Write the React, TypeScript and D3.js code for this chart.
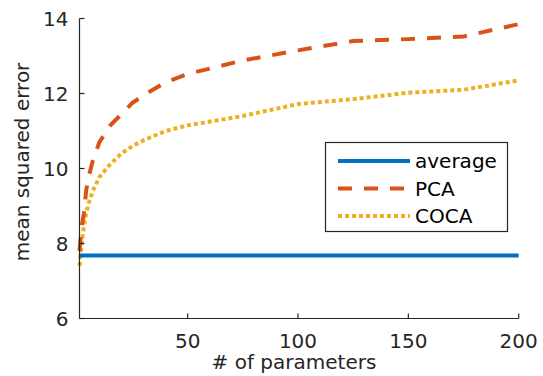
import { useEffect, useRef } from 'react';
import * as d3 from 'd3';

// number of parameters at which the errors were measured
const params = [1, 2, 3, 4, 5, 7, 10, 15, 20, 25, 30, 40, 50, 75, 100, 125, 150, 175, 200];
const pcaErr = [7.8, 8.45, 8.8, 9.4, 9.75, 10.2, 10.7, 11.15, 11.45, 11.75, 11.95, 12.3, 12.52, 12.88, 13.15, 13.4, 13.45, 13.52, 13.85];
const cocaErr = [7.4, 8.0, 8.45, 8.8, 9.05, 9.4, 9.77, 10.12, 10.4, 10.6, 10.75, 11.0, 11.15, 11.4, 11.72, 11.85, 12.02, 12.1, 12.35];
const averageErr = 7.68;

const xTicks = [50, 100, 150, 200];
const yTicks = [6, 8, 10, 12, 14];
const seriesNames = ['average', 'PCA', 'COCA'];

const App = () => {
  const svgRef = useRef<SVGSVGElement>(null);

  useEffect(() => {
    const svg = d3.select(svgRef.current);
    svg.selectAll('*').remove();

    const x = d3.scaleLinear().domain([1, 200]).range([79.5, 518.7]);
    const y = d3.scaleLinear().domain([6, 14]).range([318.5, 18.5]);
    const axisColor = '#262626';
    const font = 'DejaVu Sans, sans-serif';
    const fs = 20;

    const styles = [
      { color: '#0072BD', dash: null },
      { color: '#D95319', dash: '14 12' },
      { color: '#EDB120', dash: '4 3' },
    ];

    const line = d3.line<[number, number]>().x(d => x(d[0])).y(d => y(d[1]));

    const series: [number, number][][] = [
      [[1, averageErr], [200, averageErr]],
      params.map((p, i) => [p, pcaErr[i]]),
      params.map((p, i) => [p, cocaErr[i]]),
    ];

    // draw COCA, PCA then average on top
    [2, 1, 0].forEach(k => {
      svg.append('path')
        .attr('d', line(series[k]))
        .attr('fill', 'none')
        .attr('stroke', styles[k].color)
        .attr('stroke-width', 4)
        .attr('stroke-dasharray', styles[k].dash);
    });

    // axes (left + bottom only, ticks pointing in)
    const g = svg.append('g').attr('stroke', axisColor).attr('stroke-width', 1.2);
    g.append('line').attr('x1', x(1)).attr('x2', x(1)).attr('y1', y(6)).attr('y2', y(14));
    g.append('line').attr('x1', x(1)).attr('x2', x(200)).attr('y1', y(6)).attr('y2', y(6));

    yTicks.forEach(t => {
      g.append('line').attr('x1', x(1)).attr('x2', x(1) + 5).attr('y1', y(t)).attr('y2', y(t));
      svg.append('text')
        .attr('x', x(1) - 11).attr('y', y(t))
        .attr('text-anchor', 'end').attr('dominant-baseline', 'central')
        .attr('font-family', font).attr('font-size', fs).attr('fill', axisColor)
        .text(t);
    });
    xTicks.forEach(t => {
      g.append('line').attr('x1', x(t)).attr('x2', x(t)).attr('y1', y(6)).attr('y2', y(6) - 5);
      svg.append('text')
        .attr('x', x(t)).attr('y', 348)
        .attr('text-anchor', 'middle')
        .attr('font-family', font).attr('font-size', fs).attr('fill', axisColor)
        .text(t);
    });

    svg.append('text')
      .attr('x', 294).attr('y', 369)
      .attr('text-anchor', 'middle')
      .attr('font-family', font).attr('font-size', fs).attr('fill', axisColor)
      .text('# of parameters');

    svg.append('text')
      .attr('transform', 'translate(29,162) rotate(-90)')
      .attr('text-anchor', 'middle')
      .attr('font-family', font).attr('font-size', fs).attr('fill', axisColor)
      .text('mean squared error');

    // legend
    const lg = svg.append('g');
    lg.append('rect')
      .attr('x', 325.5).attr('y', 142.5).attr('width', 182).attr('height', 89)
      .attr('fill', 'white').attr('stroke', axisColor).attr('stroke-width', 1.2);
    seriesNames.forEach((name, i) => {
      const yy = 161 + i * 27.5;
      lg.append('line')
        .attr('x1', 338).attr('x2', 410).attr('y1', yy).attr('y2', yy)
        .attr('stroke', styles[i].color).attr('stroke-width', 4)
        .attr('stroke-dasharray', styles[i].dash);
      lg.append('text')
        .attr('x', 415).attr('y', yy)
        .attr('dominant-baseline', 'central')
        .attr('font-family', font).attr('font-size', fs).attr('fill', '#000')
        .text(name);
    });
  }, []);

  return (
    <svg ref={svgRef} width={543} height={376}
      style={{ position: 'absolute', left: 0, top: 0, background: 'white' }} />
  );
};

export default App;
